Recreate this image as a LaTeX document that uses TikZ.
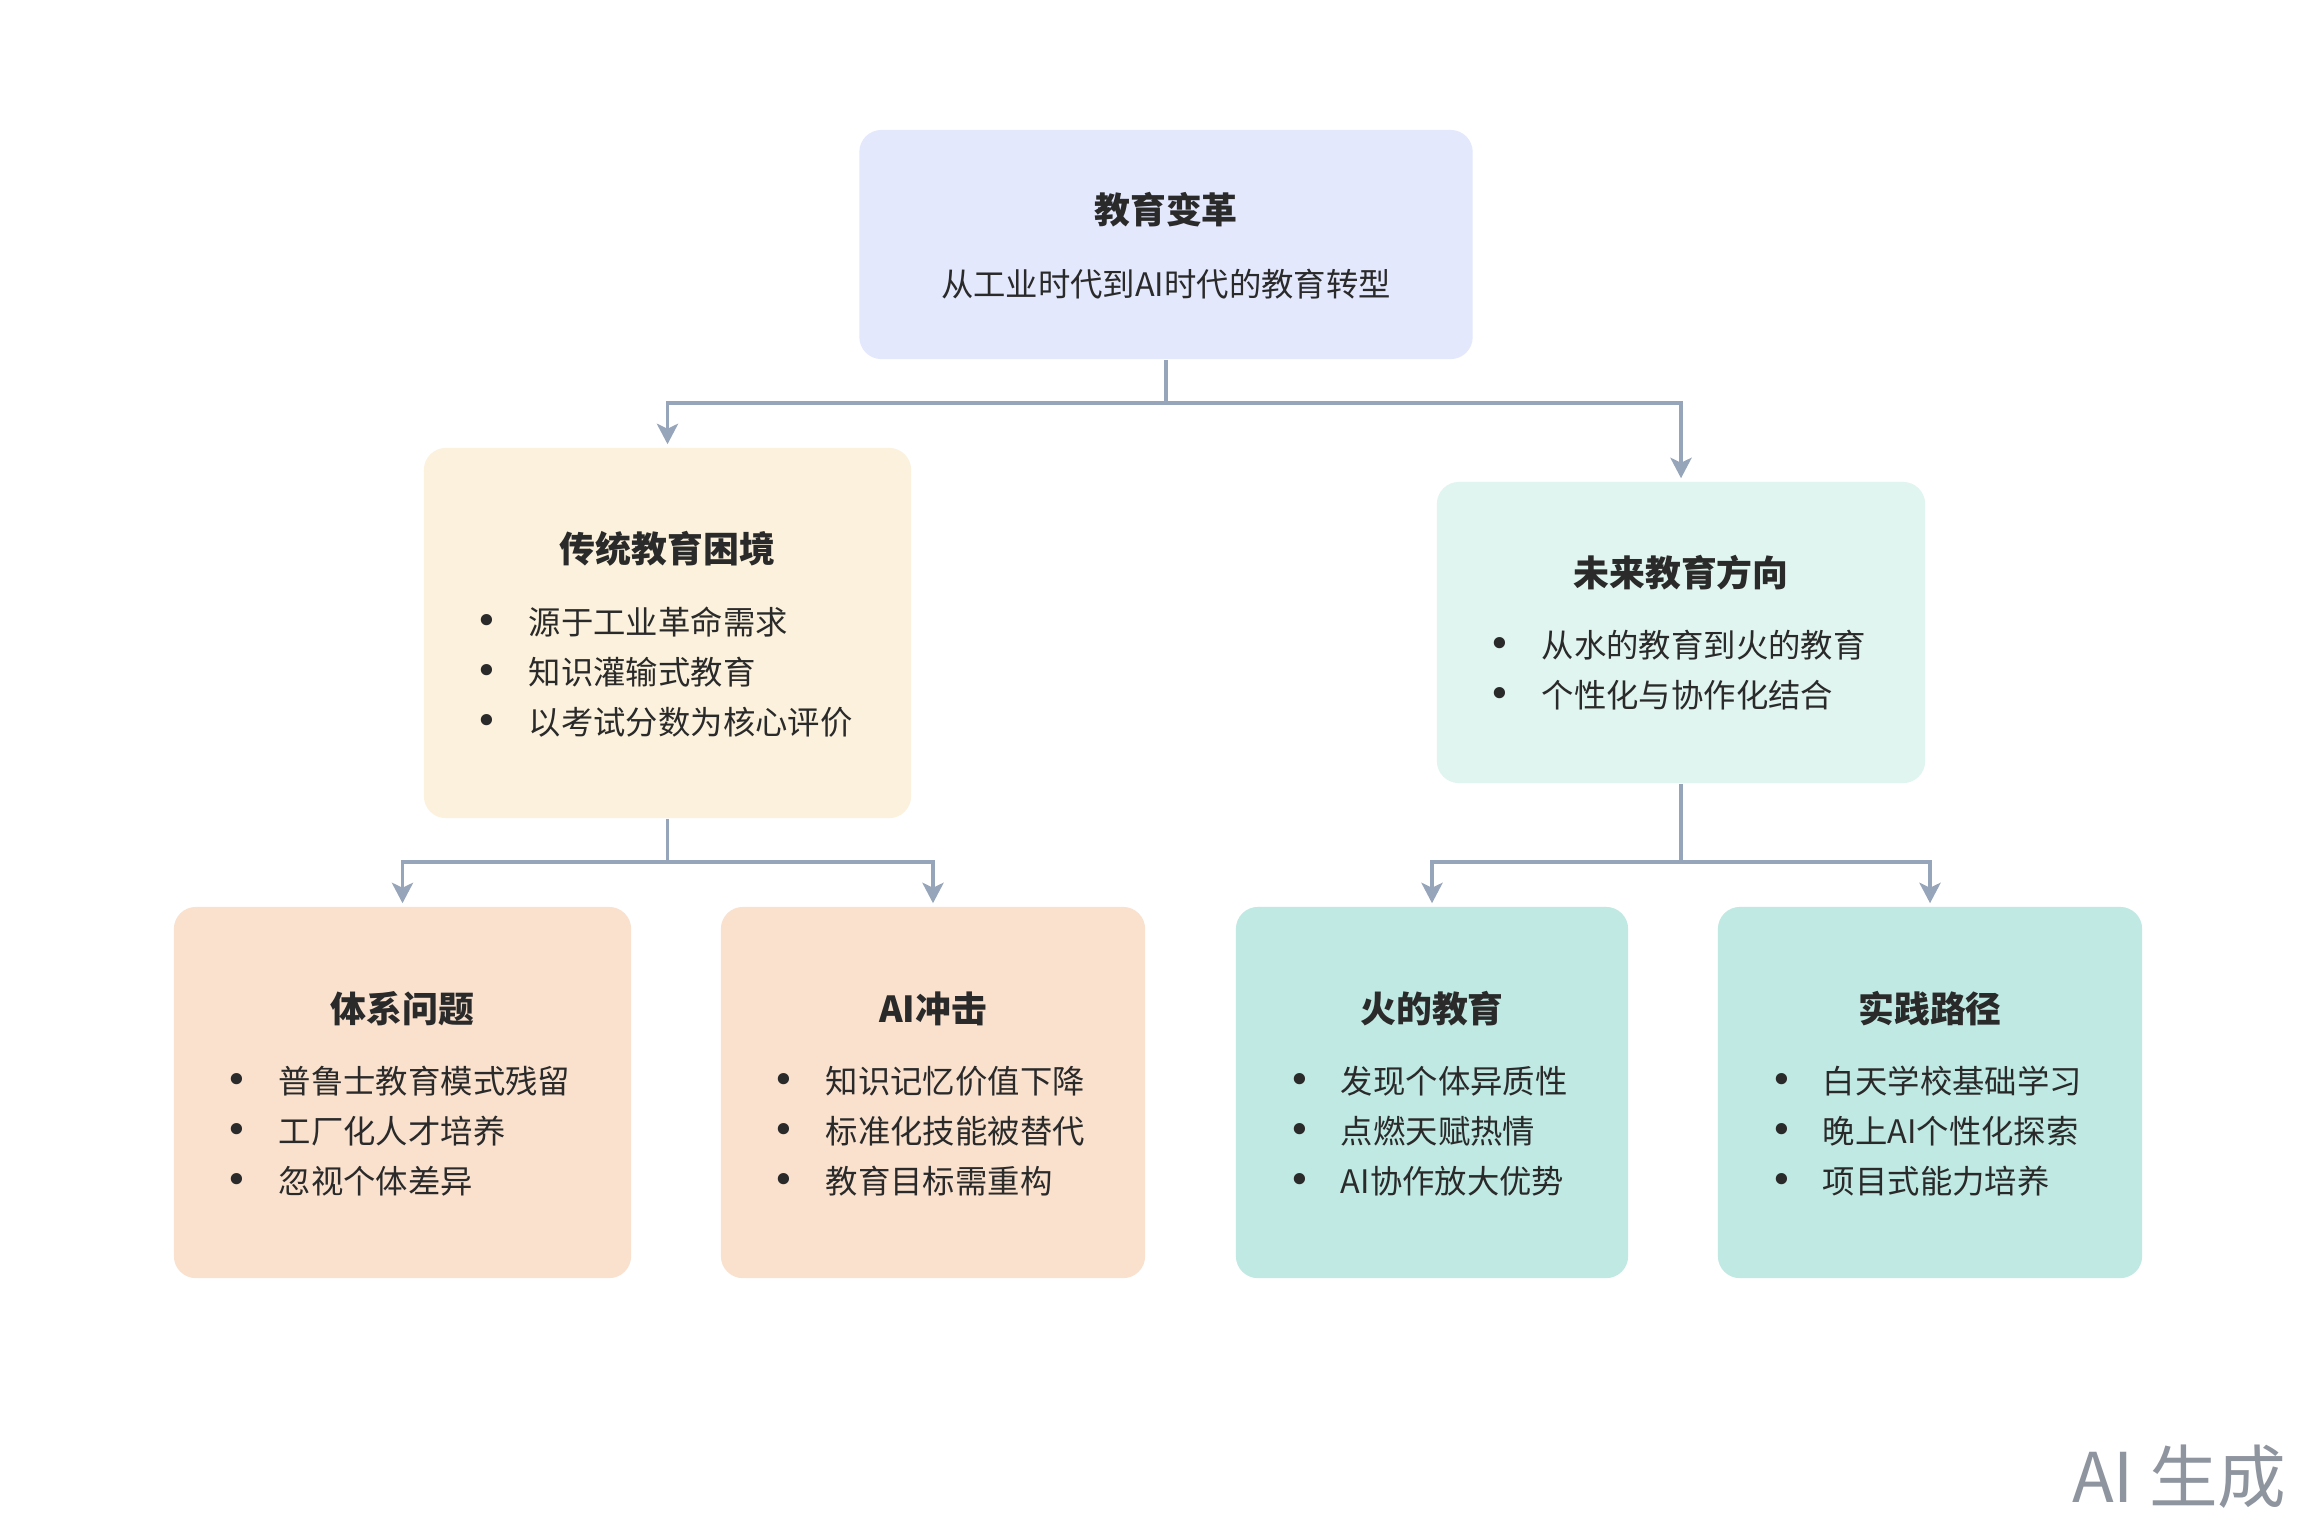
\documentclass[tikz,border=0pt]{standalone}
\usepackage{fontspec}
\setmainfont{Noto Sans CJK SC}
\newfontfamily\dotfont{DejaVu Sans}
\usetikzlibrary{arrows.meta,positioning,calc}

\definecolor{txt}{HTML}{2A2A2A}
\definecolor{ln}{HTML}{97A5BA}
\definecolor{mk}{HTML}{8F959F}
\definecolor{fTop}{HTML}{E3E8FD}
\definecolor{fOld}{HTML}{FBF1DC}
\definecolor{fNew}{HTML}{E1F5F0}
\definecolor{fWarm}{HTML}{F9E1CE}
\definecolor{fCool}{HTML}{BFE9E2}

\newcommand{\itm}[1]{\makebox[0.43cm][c]{\dotfont\fontsize{11pt}{12pt}\selectfont •}\hspace{0.2cm}#1}

\begin{document}
\begin{tikzpicture}[x=0.01cm, y=-0.01cm,
    card/.style={rounded corners=0.22cm, inner sep=0pt, minimum height=3.71cm},
    ttl/.style={font=\bfseries\fontsize{10.2pt}{12pt}\selectfont, text=txt, inner sep=0pt},
    sub/.style={font=\fontsize{9.2pt}{12pt}\selectfont, text=txt, inner sep=0pt},
    lst/.style={font=\fontsize{9.2pt}{14.2pt}\selectfont, text=txt, align=left, anchor=west, inner sep=0pt},
    link/.style={draw=ln, line width=1.05pt},
    arr/.style={link, -{Stealth[length=5.8pt, width=6pt, inset=1.4pt]}, shorten >=0.03cm}
]
\fill[white] (0,0) rectangle (2316,1538);
\useasboundingbox (0,0) rectangle (2316,1538);

% top level
\node[card, fill=fTop, minimum width=6.13cm, minimum height=2.29cm] (top) at (1166,244.5) {};
\node[ttl] (topT) at (1166,210) {教育变革};
\node[sub] (topS) at (1166,284) {从工业时代到AI时代的教育转型};

% second level
\node[card, fill=fOld, minimum width=4.87cm, minimum height=3.70cm] (old) at (667.5,633) {};
\node[ttl] (oldT) at (667.5,549) {传统教育困境};
\node[lst] (oldL) at ($(old.west)+(42,39)$) {\itm{源于工业革命需求}\\\itm{知识灌输式教育}\\\itm{以考试分数为核心评价}};

\node[card, fill=fNew, minimum width=4.88cm, minimum height=3.01cm] (new) at (1681,632.5) {};
\node[ttl] (newT) at (1681,573) {未来教育方向};
\node[lst] (newL) at ($(new.west)+(42,38)$) {\itm{从水的教育到火的教育}\\\itm{个性化与协作化结合}};

% third level
\node[card, fill=fWarm, minimum width=4.57cm] (sys) at (402.5,1092.5) {};
\node[ttl] (sysT) at (402.5,1009) {体系问题};
\node[lst] (sysL) at ($(sys.west)+(42,39)$) {\itm{普鲁士教育模式残留}\\\itm{工厂化人才培养}\\\itm{忽视个体差异}};

\node[card, fill=fWarm, minimum width=4.24cm] (ai) at (933,1092.5) {};
\node[ttl] (aiT) at (933,1009) {AI冲击};
\node[lst] (aiL) at ($(ai.west)+(42,39)$) {\itm{知识记忆价值下降}\\\itm{标准化技能被替代}\\\itm{教育目标需重构}};

\node[card, fill=fCool, minimum width=3.92cm] (fire) at (1432,1092.5) {};
\node[ttl] (fireT) at (1432,1009) {火的教育};
\node[lst] (fireL) at ($(fire.west)+(42,39)$) {\itm{发现个体异质性}\\\itm{点燃天赋热情}\\\itm{AI协作放大优势}};

\node[card, fill=fCool, minimum width=4.24cm] (path) at (1930,1092.5) {};
\node[ttl] (pathT) at (1930,1009) {实践路径};
\node[lst] (pathL) at ($(path.west)+(42,39)$) {\itm{白天学校基础学习}\\\itm{晚上AI个性化探索}\\\itm{项目式能力培养}};

% connectors
\draw[link] (top.south) -- ++(0,43) coordinate (jTop);
\draw[arr] (jTop) -| (old.north);
\draw[arr] (jTop) -| (new.north);

\draw[link] (old.south) -- ++(0,43) coordinate (jOld);
\draw[arr] (jOld) -| (sys.north);
\draw[arr] (jOld) -| (ai.north);

\draw[link] (new.south) -- (new.south |- jOld) coordinate (jNew);
\draw[arr] (jNew) -| (fire.north);
\draw[arr] (jNew) -| (path.north);

\node[font=\fontsize{19.5pt}{22pt}\selectfont, text=mk, inner sep=0pt, anchor=east] (mark) at (2287,1477) {AI 生成};
\end{tikzpicture}
\end{document}
